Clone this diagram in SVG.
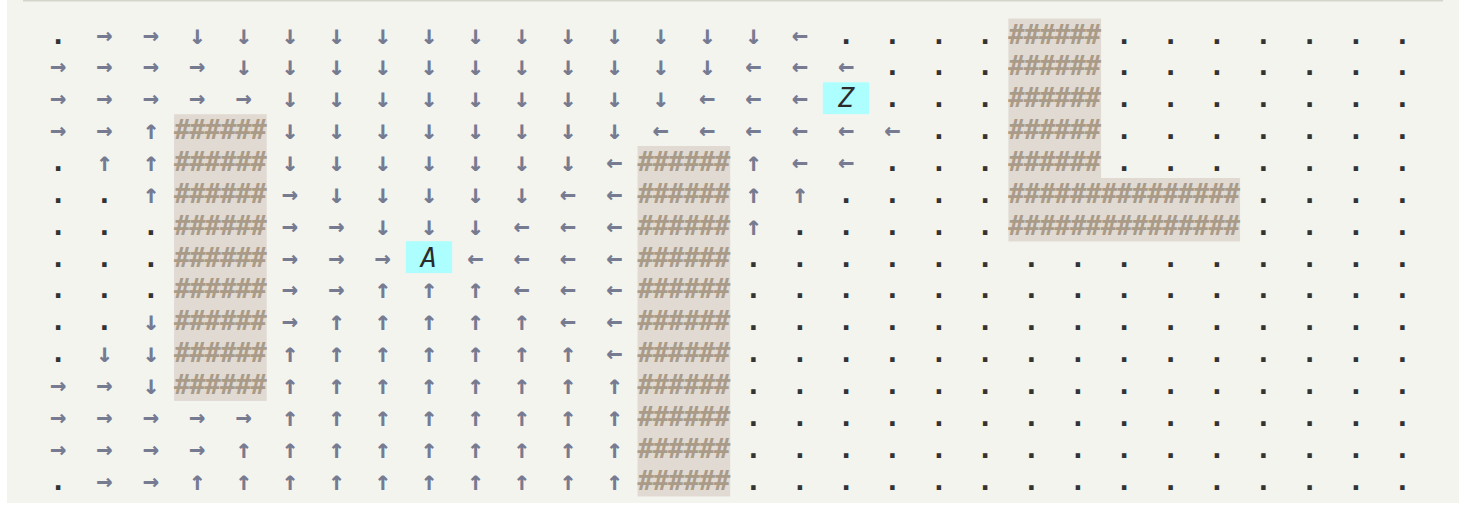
<svg xmlns="http://www.w3.org/2000/svg" width="1482" height="520" viewBox="0 0 1482 520">
<style>
text{font-family:"DejaVu Sans Mono","Liberation Mono",monospace;font-size:27px}
.a{fill:#767b91;text-anchor:middle;font-weight:bold}
.d{fill:#333333;text-anchor:middle;font-weight:bold}
.h{fill:#a99b88;font-weight:bold}
.l{fill:#2b2b2b;text-anchor:middle;font-style:italic}
.wall{fill:#e1dad3}
.mark{fill:#adfefe}
</style>
<rect x="0" y="0" width="1482" height="520" fill="#ffffff"/>
<rect x="7" y="0" width="1452" height="503" fill="#f4f4ef"/>
<rect x="23" y="0" width="1420" height="1.5" fill="#d3d5ca"/>
<g id="walls">
<rect class="wall" x="174.05" y="114.2" width="92.7" height="286.7"/>
<rect class="wall" x="637.55" y="146" width="92.7" height="350.5"/>
<path class="wall" d="M1008.35 18.6H1101.05V177.9H1240.1V241.6H1008.35Z"/>
</g>
<g id="wall-text">
<text class="h" x="1008.35" y="43.5" textLength="92.7" lengthAdjust="spacing">######</text>
<text class="h" x="1008.35" y="75.4" textLength="92.7" lengthAdjust="spacing">######</text>
<text class="h" x="1008.35" y="107.2" textLength="92.7" lengthAdjust="spacing">######</text>
<text class="h" x="1008.35" y="139.1" textLength="92.7" lengthAdjust="spacing">######</text>
<text class="h" x="1008.35" y="170.9" textLength="92.7" lengthAdjust="spacing">######</text>
<text class="h" x="1008.35" y="202.8" textLength="231.75" lengthAdjust="spacing">###############</text>
<text class="h" x="1008.35" y="234.7" textLength="231.75" lengthAdjust="spacing">###############</text>
<text class="h" x="174.05" y="139.1" textLength="92.7" lengthAdjust="spacing">######</text>
<text class="h" x="174.05" y="170.9" textLength="92.7" lengthAdjust="spacing">######</text>
<text class="h" x="174.05" y="202.8" textLength="92.7" lengthAdjust="spacing">######</text>
<text class="h" x="174.05" y="234.7" textLength="92.7" lengthAdjust="spacing">######</text>
<text class="h" x="174.05" y="266.5" textLength="92.7" lengthAdjust="spacing">######</text>
<text class="h" x="174.05" y="298.4" textLength="92.7" lengthAdjust="spacing">######</text>
<text class="h" x="174.05" y="330.2" textLength="92.7" lengthAdjust="spacing">######</text>
<text class="h" x="174.05" y="362.1" textLength="92.7" lengthAdjust="spacing">######</text>
<text class="h" x="174.05" y="394" textLength="92.7" lengthAdjust="spacing">######</text>
<text class="h" x="637.55" y="170.9" textLength="92.7" lengthAdjust="spacing">######</text>
<text class="h" x="637.55" y="202.8" textLength="92.7" lengthAdjust="spacing">######</text>
<text class="h" x="637.55" y="234.7" textLength="92.7" lengthAdjust="spacing">######</text>
<text class="h" x="637.55" y="266.5" textLength="92.7" lengthAdjust="spacing">######</text>
<text class="h" x="637.55" y="298.4" textLength="92.7" lengthAdjust="spacing">######</text>
<text class="h" x="637.55" y="330.2" textLength="92.7" lengthAdjust="spacing">######</text>
<text class="h" x="637.55" y="362.1" textLength="92.7" lengthAdjust="spacing">######</text>
<text class="h" x="637.55" y="394" textLength="92.7" lengthAdjust="spacing">######</text>
<text class="h" x="637.55" y="425.8" textLength="92.7" lengthAdjust="spacing">######</text>
<text class="h" x="637.55" y="457.7" textLength="92.7" lengthAdjust="spacing">######</text>
<text class="h" x="637.55" y="489.5" textLength="92.7" lengthAdjust="spacing">######</text>
</g>
<g id="start">
<rect class="mark" x="405.8" y="241.2" width="46.35" height="31.86"/>
<text class="l" x="429" y="266.5">A</text>
</g>
<g id="goal">
<rect class="mark" x="822.8" y="82.3" width="46.35" height="31.86"/>
<text class="l" x="846.1" y="107.2">Z</text>
</g>
<g id="arrows">
<text class="a" x="104.5 150.9 197.2 243.6 289.9 336.3 382.6 429.0 475.3 521.7 568.0 614.4 660.7 707.1 753.4 799.8" y="43.5">→→↓↓↓↓↓↓↓↓↓↓↓↓↓←</text>
<text class="a" x="58.2 104.5 150.9 197.2 243.6 289.9 336.3 382.6 429.0 475.3 521.7 568.0 614.4 660.7 707.1 753.4 799.8 846.1" y="75.4">→→→→↓↓↓↓↓↓↓↓↓↓↓←←←</text>
<text class="a" x="58.2 104.5 150.9 197.2 243.6 289.9 336.3 382.6 429.0 475.3 521.7 568.0 614.4 660.7 707.1 753.4 799.8" y="107.2">→→→→→↓↓↓↓↓↓↓↓↓←←←</text>
<text class="a" x="58.2 104.5 150.9 289.9 336.3 382.6 429.0 475.3 521.7 568.0 614.4 660.7 707.1 753.4 799.8 846.1 892.5" y="139.1">→→↑↓↓↓↓↓↓↓↓←←←←←←</text>
<text class="a" x="104.5 150.9 289.9 336.3 382.6 429.0 475.3 521.7 568.0 614.4 753.4 799.8 846.1" y="170.9">↑↑↓↓↓↓↓↓↓←↑←←</text>
<text class="a" x="150.9 289.9 336.3 382.6 429.0 475.3 521.7 568.0 614.4 753.4 799.8" y="202.8">↑→↓↓↓↓↓←←↑↑</text>
<text class="a" x="289.9 336.3 382.6 429.0 475.3 521.7 568.0 614.4 753.4" y="234.7">→→↓↓↓←←←↑</text>
<text class="a" x="289.9 336.3 382.6 475.3 521.7 568.0 614.4" y="266.5">→→→←←←←</text>
<text class="a" x="289.9 336.3 382.6 429.0 475.3 521.7 568.0 614.4" y="298.4">→→↑↑↑←←←</text>
<text class="a" x="150.9 289.9 336.3 382.6 429.0 475.3 521.7 568.0 614.4" y="330.2">↓→↑↑↑↑↑←←</text>
<text class="a" x="104.5 150.9 289.9 336.3 382.6 429.0 475.3 521.7 568.0 614.4" y="362.1">↓↓↑↑↑↑↑↑↑←</text>
<text class="a" x="58.2 104.5 150.9 289.9 336.3 382.6 429.0 475.3 521.7 568.0 614.4" y="394">→→↓↑↑↑↑↑↑↑↑</text>
<text class="a" x="58.2 104.5 150.9 197.2 243.6 289.9 336.3 382.6 429.0 475.3 521.7 568.0 614.4" y="425.8">→→→→→↑↑↑↑↑↑↑↑</text>
<text class="a" x="58.2 104.5 150.9 197.2 243.6 289.9 336.3 382.6 429.0 475.3 521.7 568.0 614.4" y="457.7">→→→→↑↑↑↑↑↑↑↑↑</text>
<text class="a" x="104.5 150.9 197.2 243.6 289.9 336.3 382.6 429.0 475.3 521.7 568.0 614.4" y="489.5">→→↑↑↑↑↑↑↑↑↑↑</text>
</g>
<g id="dots">
<text class="d" x="58.2 846.1 892.5 938.8 985.2 1124.2 1170.6 1216.9 1263.3 1309.6 1356.0 1402.3" y="43.5">............</text>
<text class="d" x="892.5 938.8 985.2 1124.2 1170.6 1216.9 1263.3 1309.6 1356.0 1402.3" y="75.4">..........</text>
<text class="d" x="892.5 938.8 985.2 1124.2 1170.6 1216.9 1263.3 1309.6 1356.0 1402.3" y="107.2">..........</text>
<text class="d" x="938.8 985.2 1124.2 1170.6 1216.9 1263.3 1309.6 1356.0 1402.3" y="139.1">.........</text>
<text class="d" x="58.2 892.5 938.8 985.2 1124.2 1170.6 1216.9 1263.3 1309.6 1356.0 1402.3" y="170.9">...........</text>
<text class="d" x="58.2 104.5 846.1 892.5 938.8 985.2 1263.3 1309.6 1356.0 1402.3" y="202.8">..........</text>
<text class="d" x="58.2 104.5 150.9 799.8 846.1 892.5 938.8 985.2 1263.3 1309.6 1356.0 1402.3" y="234.7">............</text>
<text class="d" x="58.2 104.5 150.9 753.4 799.8 846.1 892.5 938.8 985.2 1031.5 1077.9 1124.2 1170.6 1216.9 1263.3 1309.6 1356.0 1402.3" y="266.5">..................</text>
<text class="d" x="58.2 104.5 150.9 753.4 799.8 846.1 892.5 938.8 985.2 1031.5 1077.9 1124.2 1170.6 1216.9 1263.3 1309.6 1356.0 1402.3" y="298.4">..................</text>
<text class="d" x="58.2 104.5 753.4 799.8 846.1 892.5 938.8 985.2 1031.5 1077.9 1124.2 1170.6 1216.9 1263.3 1309.6 1356.0 1402.3" y="330.2">.................</text>
<text class="d" x="58.2 753.4 799.8 846.1 892.5 938.8 985.2 1031.5 1077.9 1124.2 1170.6 1216.9 1263.3 1309.6 1356.0 1402.3" y="362.1">................</text>
<text class="d" x="753.4 799.8 846.1 892.5 938.8 985.2 1031.5 1077.9 1124.2 1170.6 1216.9 1263.3 1309.6 1356.0 1402.3" y="394">...............</text>
<text class="d" x="753.4 799.8 846.1 892.5 938.8 985.2 1031.5 1077.9 1124.2 1170.6 1216.9 1263.3 1309.6 1356.0 1402.3" y="425.8">...............</text>
<text class="d" x="753.4 799.8 846.1 892.5 938.8 985.2 1031.5 1077.9 1124.2 1170.6 1216.9 1263.3 1309.6 1356.0 1402.3" y="457.7">...............</text>
<text class="d" x="58.2 753.4 799.8 846.1 892.5 938.8 985.2 1031.5 1077.9 1124.2 1170.6 1216.9 1263.3 1309.6 1356.0 1402.3" y="489.5">................</text>
</g>
</svg>
